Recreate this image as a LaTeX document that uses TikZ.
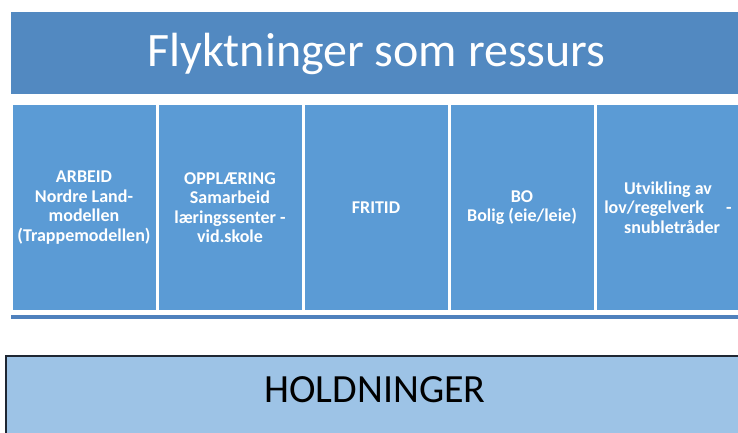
\documentclass[tikz,border=0pt]{standalone}
\usepackage{fontspec}
\setmainfont{Carlito}
\usepackage{tikz}
\usetikzlibrary{positioning}

\definecolor{titleblue}{HTML}{5289C1}
\definecolor{colblue}{HTML}{5B9BD5}
\definecolor{stripblue}{HTML}{4F81BD}
\definecolor{holdblue}{HTML}{9DC3E6}
\definecolor{holdline}{HTML}{1F2733}

\tikzset{
  colbox/.style={fill=colblue, draw=white, line width=1.5pt, minimum width=144.5pt,
    minimum height=206.5pt, inner sep=0pt, anchor=north west, align=center,
    text=white, font=\fontsize{18}{19.5}\selectfont\bfseries},
}

\begin{document}
\begin{tikzpicture}[x=1pt,y=1pt]
\useasboundingbox (0,0) rectangle (738,-432);
\fill [white] (0,0) rectangle (738,-432);
\clip (0,0) rectangle (738,-432);
% title bar
\node (title) [fill=titleblue, minimum width=740pt, minimum height=82pt, anchor=north west,
  inner sep=0pt] at (11,-12) {};
\node (titletext) [text=white, font=\fontsize{48}{56}\selectfont] at (376.5,-54) {Flyktninger som ressurs};
% columns
\node (arbeid) [colbox] at (11,-103.5) {ARBEID\\Nordre Land-\\modellen\\(Trappemodellen)};
\node (opplaering) [colbox, right=0pt of arbeid.north east, anchor=north west] {OPPLÆRING\\Samarbeid\\læringssenter -\\vid.skole};
\node (fritid) [colbox, right=0pt of opplaering.north east, anchor=north west] {FRITID};
\node (bo) [colbox, right=0pt of fritid.north east, anchor=north west] {BO\\Bolig (eie/leie)};
\node (lov) [colbox, right=0pt of bo.north east, anchor=north west] {Utvikling av\\lov/regelverk\quad\ -\\\ \ snubletråder};
% strip under the columns
\fill [stripblue] (11,-315) rectangle (740,-318.5);
% holdninger
\node (holdninger) [fill=holdblue, draw=holdline, line width=2pt, minimum width=750pt,
  minimum height=100pt, anchor=north west, inner sep=0pt] at (5,-355) {};
\node (holdtext) [font=\fontsize{40}{48}\selectfont] at (375,-390) {HOLDNINGER};
\end{tikzpicture}
\end{document}
